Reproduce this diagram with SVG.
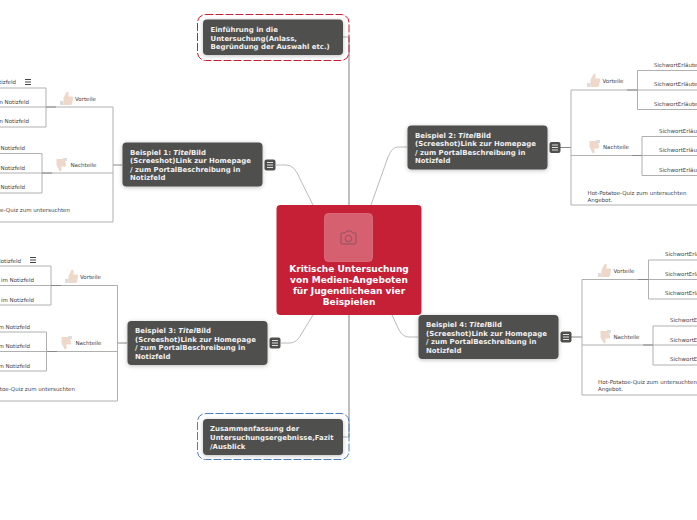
<svg xmlns="http://www.w3.org/2000/svg" width="697" height="520" viewBox="0 0 697 520">
<style>
text{font-family:"DejaVu Sans",sans-serif}
.t{font-size:6.95px;font-weight:700;fill:#f0f0f0}
.c{font-size:9px;font-weight:700;fill:#fff;text-anchor:middle}
.s{font-size:5.5px;fill:#444}
.e{font-size:5.5px;fill:#444;text-anchor:end}
.l{fill:none;stroke:#b0b0b0;stroke-width:1}
.d{fill:none;stroke:#888;stroke-width:1}
.k{fill:none;stroke:#bbb;stroke-width:1}
.n{fill:#4f4f4d;filter:drop-shadow(0 1px 2px rgba(0,0,0,.25))}
.b{fill:#4f4f4d}
.w{stroke:#eee;stroke-width:.9;fill:none}
.h{stroke:#444;stroke-width:1;fill:none}
.u{fill:#efd8ca}
.g{fill:#ddd}
</style>
<defs>
<g id="burger"><rect x="-5.500" y="-5.500" width="11" height="11" rx="2" class="b"/><path class="w" d="M-3-2.500H3M-3 0H3M-3 2.500H3"/></g>
<g id="up"><path class="u" d="M-3.500-1 L-.5-7 Q1.500-8 1.700-5.500 L1.300-2.500 H5.500 Q6.500-2 6-.5 L5 5 Q4.500 6 3 6 H-3.500Z"/><path class="g" d="M-7 2H-3.500V6H-7Z"/></g>
<g id="down"><path class="u" d="M-3.500 1 L-.5 7 Q1.500 8 1.700 5.500 L1.300 2.500 H5.500 Q6.500 2 6 .5 L5-4 Q4.500-5 3-5 H-3.500Z"/><path class="g" d="M3-6H7V-3H3Z"/></g>
</defs>
<g id="connectors">
<path d="M349 37V205M349 315V437" fill="none" stroke="#c0c0c0" stroke-width="2"/>
<path class="l" d="M343 37H349M343 437H349"/>
<path class="k" d="M276 165H286Q295 165 300 179L313 205"/>
<path class="k" d="M407 147H398Q392 147 388 157L371 205"/>
<path class="k" d="M281 343H290Q297 343 302 333L313 315"/>
<path class="k" d="M418 337H409Q403 337 399 330L392 315"/>
<path class="d" d="M113 165H122M118 343H127M560 147.500H571M571 337H582"/>
<path class="l" d="M0 222H113V107H46M113 173H42M0 88H46V127H0M0 107H46M0 153.500H42V193H0M0 173H42"/>
<path class="d" d="M46 107H56M42 173H52"/>
<path class="l" d="M0 401H117.500V285.500H51M117.500 351.500H47M0 266H51V305H0M0 285.500H51M0 332H46.500V371H0M0 351.500H46.500"/>
<path class="d" d="M51 285.500H61M47 351.500H57"/>
<path class="l" d="M697 205H571V90H637.500M571 155.500H642M697 70.500H637.500V109.500H697M637.500 90H697M697 136.500H642V175.500H697M642 155.500H697"/>
<path class="d" d="M627 90H637.500M632 155.500H642"/>
<path class="l" d="M697 395H582V279.500H648.500M582 345H653M697 260H648.500V299H697M648.500 279.500H697M697 326H653V365H697M653 345H697"/>
<path class="d" d="M638 279.500H648.500M643 345H653"/>
</g>
<g id="center">
<rect x="276.500" y="205" width="145" height="110" rx="4" fill="#c52036"/>
<rect x="324.500" y="213.500" width="48" height="48" rx="4" fill="#d66070" stroke="#dd7a88" stroke-width=".7"/>
<path d="M342 233H345L346.500 231H351L352.500 233H355Q356 233 356 234V243Q356 244 355 244H342Q341 244 341 243V234Q341 233 342 233Z" fill="none" stroke="#8a5560" stroke-width="1"/>
<circle cx="348.500" cy="238.500" r="3.200" fill="none" stroke="#8a5560" stroke-width="1"/>
<text class="c" x="349" y="272">Kritische Untersuchung</text>
<text class="c" x="349" y="283">von Medien-Angeboten</text>
<text class="c" x="349" y="294">für Jugendlichean vier</text>
<text class="c" x="349" y="305">Beispielen</text>
</g>
<g id="intro">
<rect x="197.500" y="14.500" width="151.500" height="46" rx="8" fill="none" stroke="#c52036" stroke-width="1" stroke-dasharray="8 2"/>
<rect class="n" x="203" y="19.500" width="140" height="35.500" rx="4"/>
<text class="t" x="210.500" y="32">Einführung in die</text>
<text class="t" x="210.500" y="40.500">Untersuchung(Anlass,</text>
<text class="t" x="210.500" y="49">Begründung der Auswahl etc.)</text>
</g>
<g id="summary">
<rect x="197.500" y="413.500" width="151.500" height="46" rx="8" fill="none" stroke="#4a80c0" stroke-width="1" stroke-dasharray="8 2"/>
<rect class="n" x="203" y="419" width="140" height="36" rx="4"/>
<text class="t" x="210" y="431">Zusammenfassung der</text>
<text class="t" x="210" y="440">Untersuchungsergebnisse,Fazit</text>
<text class="t" x="210" y="449">/Ausblick</text>
</g>
<g id="beispiel1">
<rect class="n" x="122.500" y="142.500" width="140" height="44" rx="4"/>
<text class="t" x="130" y="154.500">Beispiel 1: <tspan font-style="italic">Titel</tspan>Bild</text>
<text class="t" x="130" y="163">(Screeshot)Link zur Homepage</text>
<text class="t" x="130" y="171.500">/ zum PortalBeschreibung in</text>
<text class="t" x="130" y="180">Notizfeld</text>
<use href="#burger" x="270" y="165"/>
<use href="#up" x="67" y="99"/><text class="s" x="75" y="101">Vorteile</text>
<use href="#down" x="60" y="164"/><text class="s" x="70.500" y="167">Nachteile</text>
<text class="e" x="16" y="84">SichwortErläuterung im Notizfeld</text>
<path class="h" d="M25 79.500H31M25 82H31M25 84.500H31"/>
<text class="e" x="29" y="104">SichwortErläuterung im Notizfeld</text>
<text class="e" x="29" y="123">SichwortErläuterung im Notizfeld</text>
<text class="e" x="25" y="150">SichwortErläuterung im Notizfeld</text>
<text class="e" x="25" y="170">SichwortErläuterung im Notizfeld</text>
<text class="e" x="25" y="189">SichwortErläuterung im Notizfeld</text>
<text class="e" x="70" y="212">Hot-Potatoe-Quiz zum untersuchten</text>
</g>
<g id="beispiel3">
<rect class="n" x="127.500" y="321" width="140" height="44" rx="4"/>
<text class="t" x="135" y="333">Beispiel 3: <tspan font-style="italic">Titel</tspan>Bild</text>
<text class="t" x="135" y="342">(Screeshot)Link zur Homepage</text>
<text class="t" x="135" y="350">/ zum PortalBeschreibung in</text>
<text class="t" x="135" y="359">Notizfeld</text>
<use href="#burger" x="275" y="343"/>
<use href="#up" x="72" y="277"/><text class="s" x="80" y="279">Vorteile</text>
<use href="#down" x="65" y="342"/><text class="s" x="75.500" y="345">Nachteile</text>
<text class="e" x="21" y="263">SichwortErläuterung im Notizfeld</text>
<path class="h" d="M30 257.500H36M30 260H36M30 262.500H36"/>
<text class="e" x="34" y="282">SichwortErläuterung im Notizfeld</text>
<text class="e" x="34" y="302">SichwortErläuterung im Notizfeld</text>
<text class="e" x="30" y="329">SichwortErläuterung im Notizfeld</text>
<text class="e" x="30" y="348">SichwortErläuterung im Notizfeld</text>
<text class="e" x="30" y="368">SichwortErläuterung im Notizfeld</text>
<text class="e" x="75" y="391">Hot-Potatoe-Quiz zum untersuchten</text>
</g>
<g id="beispiel2">
<rect class="n" x="407.500" y="125.500" width="140" height="44" rx="4"/>
<text class="t" x="415" y="138">Beispiel 2: <tspan font-style="italic">Titel</tspan>Bild</text>
<text class="t" x="415" y="146">(Screeshot)Link zur Homepage</text>
<text class="t" x="415" y="155">/ zum PortalBeschreibung in</text>
<text class="t" x="415" y="163">Notizfeld</text>
<use href="#burger" x="555" y="147.500"/>
<use href="#up" x="594" y="81"/><text class="s" x="602.500" y="83">Vorteile</text>
<use href="#down" x="593" y="146"/><text class="s" x="603" y="149">Nachteile</text>
<text class="s" x="654" y="67">SichwortErläuterung im Notizfeld</text>
<text class="s" x="654" y="86">SichwortErläuterung im Notizfeld</text>
<text class="s" x="654" y="106">SichwortErläuterung im Notizfeld</text>
<text class="s" x="659" y="133">SichwortErläuterung im Notizfeld</text>
<text class="s" x="659" y="152">SichwortErläuterung im Notizfeld</text>
<text class="s" x="659" y="172">SichwortErläuterung im Notizfeld</text>
<text class="s" x="587.500" y="195">Hot-Potatoe-Quiz zum untersuchten</text>
<text class="s" x="587.500" y="201.500">Angebot.</text>
</g>
<g id="beispiel4">
<rect class="n" x="418.500" y="315" width="140" height="44" rx="4"/>
<text class="t" x="426" y="327">Beispiel 4: <tspan font-style="italic">Titel</tspan>Bild</text>
<text class="t" x="426" y="336">(Screeshot)Link zur Homepage</text>
<text class="t" x="426" y="344">/ zum PortalBeschreibung in</text>
<text class="t" x="426" y="353">Notizfeld</text>
<use href="#burger" x="566" y="337"/>
<use href="#up" x="605" y="271"/><text class="s" x="613.500" y="273">Vorteile</text>
<use href="#down" x="604" y="336"/><text class="s" x="613.500" y="339">Nachteile</text>
<text class="s" x="665" y="256">SichwortErläuterung im Notizfeld</text>
<text class="s" x="665" y="276">SichwortErläuterung im Notizfeld</text>
<text class="s" x="665" y="295">SichwortErläuterung im Notizfeld</text>
<text class="s" x="670" y="322">SichwortErläuterung im Notizfeld</text>
<text class="s" x="670" y="342">SichwortErläuterung im Notizfeld</text>
<text class="s" x="670" y="361">SichwortErläuterung im Notizfeld</text>
<text class="s" x="598" y="384">Hot-Potatoe-Quiz zum untersuchten</text>
<text class="s" x="598" y="391">Angebot.</text>
</g>
</svg>
